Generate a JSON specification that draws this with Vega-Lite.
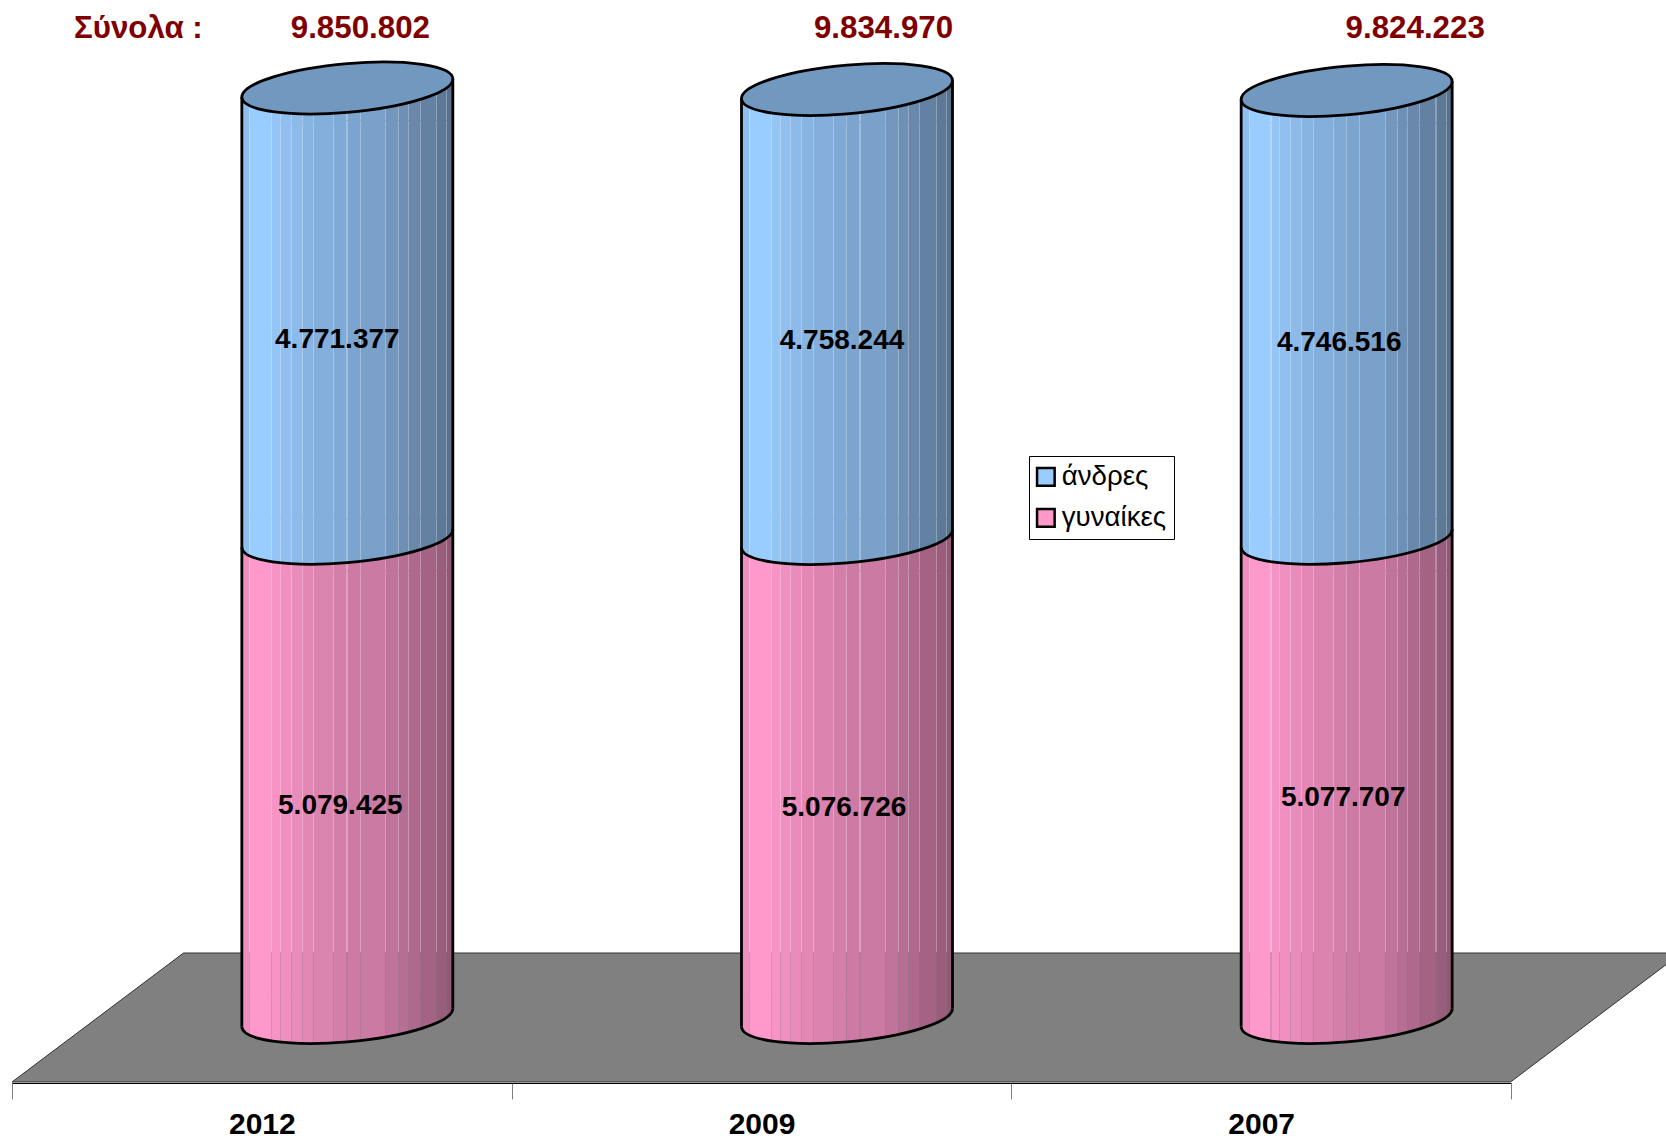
{"$schema":"https://vega.github.io/schema/vega-lite/v6.json","width":1666,"height":1083,"autosize":"none","padding":{"left":0,"top":0,"right":0,"bottom":55},"background":"white",
"params":[
{"name":"blueGrad","value":{"gradient":"linear","stops":[
{"offset":0,"color":"#8fbfef"},{"offset":0.036,"color":"#8fbfef"},{"offset":0.036,"color":"rgba(153,204,255,0.7)"},{"offset":0.041,"color":"rgba(153,204,255,0.7)"},{"offset":0.041,"color":"#99ccff"},
{"offset":0.139,"color":"#99ccff"},{"offset":0.139,"color":"rgba(148,197,247,0.7)"},{"offset":0.144,"color":"rgba(148,197,247,0.7)"},{"offset":0.144,"color":"#94c5f7"},
{"offset":0.181,"color":"#94c5f7"},{"offset":0.181,"color":"rgba(144,191,240,0.7)"},{"offset":0.186,"color":"rgba(144,191,240,0.7)"},{"offset":0.186,"color":"#90bff0"},
{"offset":0.231,"color":"#90bff0"},{"offset":0.231,"color":"rgba(140,186,233,0.7)"},{"offset":0.236,"color":"rgba(140,186,233,0.7)"},{"offset":0.236,"color":"#8cbae9"},
{"offset":0.283,"color":"#8cbae9"},{"offset":0.283,"color":"rgba(136,180,226,0.7)"},{"offset":0.288,"color":"rgba(136,180,226,0.7)"},{"offset":0.288,"color":"#88b4e2"},
{"offset":0.339,"color":"#88b4e2"},{"offset":0.339,"color":"rgba(132,174,219,0.7)"},{"offset":0.344,"color":"rgba(132,174,219,0.7)"},{"offset":0.344,"color":"#84aedb"},
{"offset":0.433,"color":"#84aedb"},{"offset":0.433,"color":"rgba(127,170,213,0.7)"},{"offset":0.438,"color":"rgba(127,170,213,0.7)"},{"offset":0.438,"color":"#7faad5"},
{"offset":0.496,"color":"#7faad5"},{"offset":0.496,"color":"rgba(123,164,206,0.7)"},{"offset":0.501,"color":"rgba(123,164,206,0.7)"},{"offset":0.501,"color":"#7ba4ce"},
{"offset":0.559,"color":"#7ba4ce"},{"offset":0.559,"color":"rgba(122,161,201,0.7)"},{"offset":0.564,"color":"rgba(122,161,201,0.7)"},{"offset":0.564,"color":"#7aa1c9"},
{"offset":0.68,"color":"#7aa1c9"},{"offset":0.68,"color":"rgba(116,151,189,0.7)"},{"offset":0.685,"color":"rgba(116,151,189,0.7)"},{"offset":0.685,"color":"#7497bd"},
{"offset":0.74,"color":"#7497bd"},{"offset":0.74,"color":"rgba(110,144,180,0.7)"},{"offset":0.745,"color":"rgba(110,144,180,0.7)"},{"offset":0.745,"color":"#6e90b4"},
{"offset":0.787,"color":"#6e90b4"},{"offset":0.787,"color":"rgba(105,136,171,0.7)"},{"offset":0.792,"color":"rgba(105,136,171,0.7)"},{"offset":0.792,"color":"#6988ab"},
{"offset":0.843,"color":"#6988ab"},{"offset":0.843,"color":"rgba(99,129,162,0.7)"},{"offset":0.848,"color":"rgba(99,129,162,0.7)"},{"offset":0.848,"color":"#6381a2"},
{"offset":0.921,"color":"#6381a2"},{"offset":0.921,"color":"rgba(93,121,151,0.7)"},{"offset":0.926,"color":"rgba(93,121,151,0.7)"},{"offset":0.926,"color":"#5d7997"},
{"offset":0.969,"color":"#5d7997"},{"offset":0.969,"color":"rgba(88,114,142,0.7)"},{"offset":0.974,"color":"rgba(88,114,142,0.7)"},{"offset":0.974,"color":"#58728e"},{"offset":1,"color":"#58728e"}]}},
{"name":"pinkGrad","value":{"gradient":"linear","stops":[
{"offset":0,"color":"#ee8fbf"},{"offset":0.036,"color":"#ee8fbf"},{"offset":0.036,"color":"rgba(255,153,204,0.7)"},{"offset":0.041,"color":"rgba(255,153,204,0.7)"},{"offset":0.041,"color":"#ff99cc"},
{"offset":0.139,"color":"#ff99cc"},{"offset":0.139,"color":"rgba(247,148,197,0.7)"},{"offset":0.144,"color":"rgba(247,148,197,0.7)"},{"offset":0.144,"color":"#f794c5"},
{"offset":0.181,"color":"#f794c5"},{"offset":0.181,"color":"rgba(240,144,192,0.7)"},{"offset":0.186,"color":"rgba(240,144,192,0.7)"},{"offset":0.186,"color":"#f090c0"},
{"offset":0.231,"color":"#f090c0"},{"offset":0.231,"color":"rgba(233,140,187,0.7)"},{"offset":0.236,"color":"rgba(233,140,187,0.7)"},{"offset":0.236,"color":"#e98cbb"},
{"offset":0.283,"color":"#e98cbb"},{"offset":0.283,"color":"rgba(227,136,181,0.7)"},{"offset":0.288,"color":"rgba(227,136,181,0.7)"},{"offset":0.288,"color":"#e388b5"},
{"offset":0.339,"color":"#e388b5"},{"offset":0.339,"color":"rgba(220,132,176,0.7)"},{"offset":0.344,"color":"rgba(220,132,176,0.7)"},{"offset":0.344,"color":"#dc84b0"},
{"offset":0.433,"color":"#dc84b0"},{"offset":0.433,"color":"rgba(212,127,169,0.7)"},{"offset":0.438,"color":"rgba(212,127,169,0.7)"},{"offset":0.438,"color":"#d47fa9"},
{"offset":0.496,"color":"#d47fa9"},{"offset":0.496,"color":"rgba(205,123,164,0.7)"},{"offset":0.501,"color":"rgba(205,123,164,0.7)"},{"offset":0.501,"color":"#cd7ba4"},
{"offset":0.559,"color":"#cd7ba4"},{"offset":0.559,"color":"rgba(203,122,163,0.7)"},{"offset":0.564,"color":"rgba(203,122,163,0.7)"},{"offset":0.564,"color":"#cb7aa3"},
{"offset":0.68,"color":"#cb7aa3"},{"offset":0.68,"color":"rgba(193,116,155,0.7)"},{"offset":0.685,"color":"rgba(193,116,155,0.7)"},{"offset":0.685,"color":"#c1749b"},
{"offset":0.74,"color":"#c1749b"},{"offset":0.74,"color":"rgba(183,110,147,0.7)"},{"offset":0.745,"color":"rgba(183,110,147,0.7)"},{"offset":0.745,"color":"#b76e93"},
{"offset":0.787,"color":"#b76e93"},{"offset":0.787,"color":"rgba(175,105,140,0.7)"},{"offset":0.792,"color":"rgba(175,105,140,0.7)"},{"offset":0.792,"color":"#af698c"},
{"offset":0.843,"color":"#af698c"},{"offset":0.843,"color":"rgba(165,99,132,0.7)"},{"offset":0.848,"color":"rgba(165,99,132,0.7)"},{"offset":0.848,"color":"#a56384"},
{"offset":0.921,"color":"#a56384"},{"offset":0.921,"color":"rgba(155,93,124,0.7)"},{"offset":0.926,"color":"rgba(155,93,124,0.7)"},{"offset":0.926,"color":"#9b5d7c"},
{"offset":0.969,"color":"#9b5d7c"},{"offset":0.969,"color":"rgba(147,88,117,0.7)"},{"offset":0.974,"color":"rgba(147,88,117,0.7)"},{"offset":0.974,"color":"#935875"},{"offset":1,"color":"#935875"}]}}
],
"config":{"view":{"stroke":null},"locale":{"number":{"decimal":",","thousands":".","grouping":[3],"currency":["","€"]}}},
"datasets":{"rows":[{"year":"2012","women":5079425,"men":4771377,"total":9850802},{"year":"2009","women":5076726,"men":4758244,"total":9834970},{"year":"2007","women":5077707,"men":4746516,"total":9824223}],
"legendRows":[{"year":"2012","series":"άνδρες"},{"year":"2012","series":"γυναίκες"}]},
"data":{"name":"rows"},
"encoding":{"x":{"field":"year","type":"nominal","sort":["2012","2009","2007"],"scale":{"domain":["2012","2009","2007"],"range":[12,1511],"paddingInner":0,"paddingOuter":0},"axis":{"title":null,"labelAngle":0,"grid":false,"domainColor":"#000000","domainWidth":1,"tickColor":"#808080","tickWidth":1,"tickSize":16,"tickBand":"extent","labelFont":"Liberation Sans","labelFontSize":30,"labelFontWeight":"bold","labelColor":"#000000","labelPadding":10,"labelBaseline":"top"}}},
"layer":[
{"transform":[{"filter":"datum.year=='2009'"}],"mark":{"type":"point","filled":true,"opacity":1,"size":4,"shape":"M-578 -64.5L-749.5 64.5L749 64.5L920 -64.5Z","fill":"#808080","stroke":"#333333","strokeWidth":1},"encoding":{"y":{"datum":0,"type":"quantitative","scale":{"domain":[-694000,10783000],"nice":false,"zero":false},"axis":null}}},

{"mark":{"type":"point","filled":true,"opacity":1,"stroke":null,"fill":{"expr":"pinkGrad"},"size":4,"xOffset":85.5,"shape":"M-105.5 9C-105.5 22.48 -58.27 29.37 0 24.4C58.27 19.43 105.5 4.48 105.5 -9V-20H-105.5Z"},"encoding":{"y":{"datum":0,"type":"quantitative"}}},
{"mark":{"type":"bar","fill":{"expr":"pinkGrad"},"width":211,"xOffset":85.5,"yOffset":32,"y2Offset":-19},"encoding":{"y":{"field":"women","type":"quantitative","stack":null},"y2":{"datum":0}}},
{"mark":{"type":"point","filled":true,"opacity":1,"stroke":null,"fill":{"expr":"pinkGrad"},"size":4,"xOffset":85.5,"shape":"M-105.5 9C-105.5 22.48 -58.27 29.37 0 24.4C58.27 19.43 105.5 4.48 105.5 -9V33H-105.5Z"},"encoding":{"y":{"field":"women","type":"quantitative"}}},

{"mark":{"type":"point","filled":true,"opacity":1,"stroke":null,"fill":{"expr":"blueGrad"},"size":4,"xOffset":85.5,"shape":"M-105.5 9C-105.5 22.48 -58.27 29.37 0 24.4C58.27 19.43 105.5 4.48 105.5 -9V-20H-105.5Z"},"encoding":{"y":{"field":"women","type":"quantitative"}}},
{"mark":{"type":"bar","fill":{"expr":"blueGrad"},"width":211,"xOffset":85.5,"yOffset":32,"y2Offset":-19},"encoding":{"y":{"field":"total","type":"quantitative","stack":null},"y2":{"field":"women"}}},
{"mark":{"type":"point","filled":true,"opacity":1,"stroke":null,"fill":{"expr":"blueGrad"},"size":4,"xOffset":85.5,"shape":"M-105.5 9C-105.5 22.48 -58.27 29.37 0 24.4C58.27 19.43 105.5 4.48 105.5 -9V33H-105.5Z"},"encoding":{"y":{"field":"total","type":"quantitative"}}},

{"mark":{"type":"rule","color":"#000000","strokeWidth":2.8,"xOffset":-20,"yOffset":9,"y2Offset":9},"encoding":{"y":{"field":"total","type":"quantitative"},"y2":{"datum":0}}},
{"mark":{"type":"rule","color":"#000000","strokeWidth":2.8,"xOffset":191,"yOffset":-9,"y2Offset":-9},"encoding":{"y":{"field":"total","type":"quantitative"},"y2":{"datum":0}}},

{"mark":{"type":"point","filled":false,"opacity":1,"size":4,"xOffset":85.5,"stroke":"#000000","strokeWidth":2.8,"fill":null,"shape":"M-105.5 9C-105.5 22.48 -58.27 29.37 0 24.4C58.27 19.43 105.5 4.48 105.5 -9"},"encoding":{"y":{"datum":0,"type":"quantitative"}}},
{"mark":{"type":"point","filled":false,"opacity":1,"size":4,"xOffset":85.5,"stroke":"#000000","strokeWidth":2.8,"fill":null,"shape":"M-105.5 9C-105.5 22.48 -58.27 29.37 0 24.4C58.27 19.43 105.5 4.48 105.5 -9"},"encoding":{"y":{"field":"women","type":"quantitative"}}},
{"mark":{"type":"point","filled":true,"opacity":1,"size":4,"xOffset":85.5,"fill":"#7199c0","stroke":"#000000","strokeWidth":2.8,"shape":"M-105.5 9C-105.5 22.48 -58.27 29.37 0 24.4C58.27 19.43 105.5 4.48 105.5 -9C105.5 -22.48 58.27 -29.37 0 -24.4C-58.27 -19.43 -105.5 -4.48 -105.5 9Z"},"encoding":{"y":{"field":"total","type":"quantitative"}}},

{"transform":[{"filter":"datum.year=='2012'"}],"mark":{"type":"text","font":"Liberation Sans","fontSize":28,"fontWeight":"bold","fill":"#000000","align":"center","baseline":"middle","dx":78.5,"dy":268},"encoding":{"y":{"field":"women","type":"quantitative"},"text":{"field":"women","type":"quantitative","format":",d"}}},
{"transform":[{"filter":"datum.year=='2009'"}],"mark":{"type":"text","font":"Liberation Sans","fontSize":28,"fontWeight":"bold","fill":"#000000","align":"center","baseline":"middle","dx":82.5,"dy":270},"encoding":{"y":{"field":"women","type":"quantitative"},"text":{"field":"women","type":"quantitative","format":",d"}}},
{"transform":[{"filter":"datum.year=='2007'"}],"mark":{"type":"text","font":"Liberation Sans","fontSize":28,"fontWeight":"bold","fill":"#000000","align":"center","baseline":"middle","dx":82,"dy":260},"encoding":{"y":{"field":"women","type":"quantitative"},"text":{"field":"women","type":"quantitative","format":",d"}}},
{"transform":[{"filter":"datum.year=='2012'"}],"mark":{"type":"text","font":"Liberation Sans","fontSize":28,"fontWeight":"bold","fill":"#000000","align":"center","baseline":"middle","dx":75.5,"dy":252},"encoding":{"y":{"field":"total","type":"quantitative"},"text":{"field":"men","type":"quantitative","format":",d"}}},
{"transform":[{"filter":"datum.year=='2009'"}],"mark":{"type":"text","font":"Liberation Sans","fontSize":28,"fontWeight":"bold","fill":"#000000","align":"center","baseline":"middle","dx":80.5,"dy":252},"encoding":{"y":{"field":"total","type":"quantitative"},"text":{"field":"men","type":"quantitative","format":",d"}}},
{"transform":[{"filter":"datum.year=='2007'"}],"mark":{"type":"text","font":"Liberation Sans","fontSize":28,"fontWeight":"bold","fill":"#000000","align":"center","baseline":"middle","dx":78,"dy":253},"encoding":{"y":{"field":"total","type":"quantitative"},"text":{"field":"men","type":"quantitative","format":",d"}}},
{"transform":[{"filter":"datum.year=='2012'"}],"mark":{"type":"text","font":"Liberation Sans","fontSize":31.3,"fontWeight":"bold","fill":"#800000","align":"center","baseline":"middle","dx":98.5,"dy":-59},"encoding":{"y":{"field":"total","type":"quantitative"},"text":{"field":"total","type":"quantitative","format":",d"}}},
{"transform":[{"filter":"datum.year=='2009'"}],"mark":{"type":"text","font":"Liberation Sans","fontSize":31.3,"fontWeight":"bold","fill":"#800000","align":"center","baseline":"middle","dx":122,"dy":-60},"encoding":{"y":{"field":"total","type":"quantitative"},"text":{"field":"total","type":"quantitative","format":",d"}}},
{"transform":[{"filter":"datum.year=='2007'"}],"mark":{"type":"text","font":"Liberation Sans","fontSize":31.3,"fontWeight":"bold","fill":"#800000","align":"center","baseline":"middle","dx":154,"dy":-61},"encoding":{"y":{"field":"total","type":"quantitative"},"text":{"field":"total","type":"quantitative","format":",d"}}},
{"transform":[{"filter":"datum.year=='2012'"}],"mark":{"type":"text","font":"Liberation Sans","fontSize":31.3,"fontWeight":"bold","fill":"#800000","align":"center","baseline":"middle","dx":-123.5,"dy":-59,"text":"Σύνολα :"},"encoding":{"y":{"field":"total","type":"quantitative"}}},

{"data":{"name":"legendRows"},"mark":{"type":"square","size":0,"opacity":1},"encoding":{"color":{"field":"series","type":"nominal","scale":{"domain":["άνδρες","γυναίκες"],"range":["#99ccff","#ff99cc"]},"legend":{"title":null,"orient":"none","legendX":1029,"legendY":456,"fillColor":"#ffffff","strokeColor":"#000000","padding":7,"symbolType":"square","symbolSize":310,"symbolOffset":-4,"symbolStrokeColor":"#000000","symbolStrokeWidth":2.5,"symbolOpacity":1,"labelFont":"Liberation Sans","labelFontSize":27.7,"labelColor":"#000000","labelOffset":2,"rowPadding":12}}}}
],
"resolve":{"scale":{"y":"shared"}}}
